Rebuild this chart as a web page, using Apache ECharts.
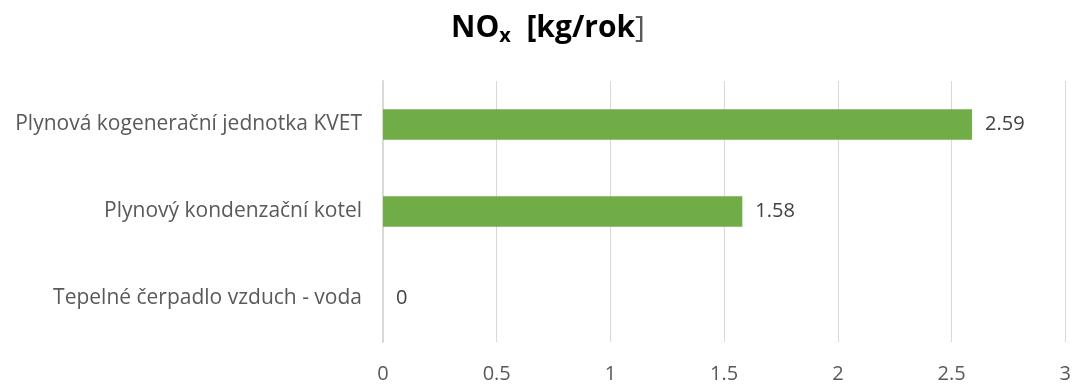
<!DOCTYPE html>
<html>
<head>
<meta charset="utf-8">
<script src="https://cdn.jsdelivr.net/npm/echarts@6/dist/echarts.min.js"></script>
<style>
  html, body { margin: 0; padding: 0; background: #fff; }
  #chart { width: 1074px; height: 384px; }
</style>
</head>
<body>
<div id="chart"></div>
<script>
// Heating sources, listed bottom to top as drawn on the category axis
const categories = [
  'Tepelné čerpadlo vzduch - voda',
  'Plynový kondenzační kotel',
  'Plynová kogenerační jednotka KVET'
];
// Annual NOx emissions [kg/rok]
const noxValues = [0, 1.58, 2.59];
const xTicks = [0, 0.5, 1, 1.5, 2, 2.5, 3];

const FONT = '"Open Sans", Lato, sans-serif';
const chart = echarts.init(document.getElementById('chart'), null, { renderer: 'canvas' });

chart.setOption({
  animation: false,
  title: {
    text: '{b|NO}{sub|x}{b|  [kg/rok}{br|]}',
    left: 446,
    top: 6,
    textStyle: {
      rich: {
        b: { fontFamily: FONT, fontWeight: 'bold', fontSize: 30, color: '#000' },
        sub: { fontFamily: FONT, fontWeight: 'bold', fontSize: 20, color: '#000', verticalAlign: 'bottom', padding: [15, 0, 0, 0] },
        br: { fontFamily: FONT, fontWeight: 'normal', fontSize: 30, color: '#595959' }
      }
    }
  },
  grid: { left: 383, right: 8, top: 81, bottom: 42, containLabel: false },
  xAxis: {
    type: 'value',
    min: 0,
    max: 3,
    interval: 0.5,
    axisLine: { show: false },
    axisTick: { show: false },
    splitLine: { show: true, lineStyle: { color: '#d9d9d9', width: 1 } },
    axisLabel: {
      margin: 22,
      fontFamily: FONT,
      fontSize: 20,
      color: '#595959',
      formatter: v => (xTicks.includes(v) ? String(v) : '')
    }
  },
  yAxis: {
    type: 'category',
    data: categories,
    axisLine: { show: true, lineStyle: { color: '#d9d9d9', width: 2 } },
    axisTick: { show: false },
    axisLabel: { margin: 21, fontFamily: FONT, fontSize: 21, color: '#595959', padding: [3, 0, 0, 0] }
  },
  series: [{
    type: 'bar',
    data: noxValues,
    barWidth: '35%',
    itemStyle: { color: '#70ad47' },
    label: {
      show: true,
      position: 'right',
      distance: 13,
      fontFamily: FONT,
      fontSize: 20,
      color: '#404040',
      padding: [3, 0, 0, 0]
    }
  }]
});
</script>
</body>
</html>
